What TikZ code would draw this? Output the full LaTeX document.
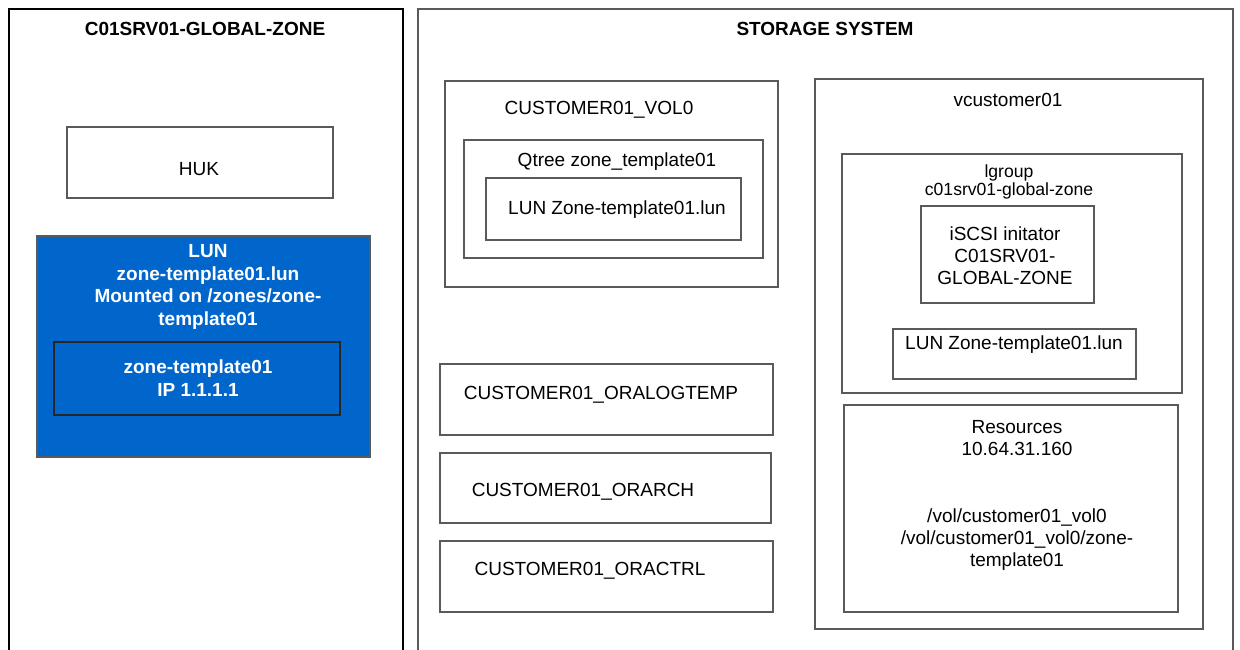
\documentclass[tikz,border=0pt]{standalone}
\usepackage{fontspec}
\setmainfont{Liberation Sans}
\definecolor{lunblue}{HTML}{0066CC}
\definecolor{boxgray}{HTML}{5A5A5A}
\begin{document}
\begin{tikzpicture}[x=0.5pt, y=-0.5pt,
  every node/.style={font=\fontsize{9.5}{11}\selectfont, align=center, inner sep=0pt},
  frame/.style={draw=boxgray, line width=0.9pt},
  title/.style={font=\fontsize{9.5}{11}\selectfont\bfseries},
  white text/.style={font=\fontsize{9.5}{11.3}\selectfont\bfseries, text=white},
  small text/.style={font=\fontsize{8.8}{9.2}\selectfont}]

\clip (0,0) rectangle (1240,649);
\fill[white] (0,0) rectangle (1240,649);

% global zone side
\draw[black, line width=0.75pt] (9,9) rectangle (403,680);
\node[title] (gztitle) at (205,29) {C01SRV01-GLOBAL-ZONE};

\draw[frame] (67,127) rectangle (333,198);
\node (huk) at (199,169) {HUK};

\fill[lunblue] (37,236) rectangle (370,457);
\draw[frame] (37,236) rectangle (370,457);
\node[white text] (lunmount) at (208,287) {LUN\\zone-template01.lun\\Mounted on /zones/zone-\\template01};
\draw[black!85, line width=0.9pt] (54,342) rectangle (340,415);
\node[white text] (zonetpl) at (198,378) {zone-template01\\IP 1.1.1.1};

% storage system side
\draw[frame] (418,9) rectangle (1233,680);
\node[title] (sstitle) at (825,29) {STORAGE SYSTEM};

\draw[frame] (445,81) rectangle (778,287);
\node (vol0) at (599,110) {CUSTOMER01\_VOL0};
\draw[frame] (464,140) rectangle (763,258);
\node (qtree) at (617,162) {Qtree zone\_template01};
\draw[frame] (486,178) rectangle (741,240);
\node (lunvol) at (617,210) {LUN Zone-template01.lun};

\draw[frame] (440,364) rectangle (773,435);
\node (oralog) at (601,395) {CUSTOMER01\_ORALOGTEMP};
\draw[frame] (440,453) rectangle (771,523);
\node (orarch) at (583,492) {CUSTOMER01\_ORARCH};
\draw[frame] (440,541) rectangle (773,612);
\node (oractrl) at (590,571) {CUSTOMER01\_ORACTRL};

% vfiler
\draw[frame] (815,79) rectangle (1203,629);
\node (vcust) at (1008,100) {vcustomer01};

\draw[frame] (842,154) rectangle (1182,393);
\node[small text] (igroup) at (1009,182) {lgroup\\c01srv01-global-zone};
\draw[frame] (921,206) rectangle (1094,303);
\node (iscsi) at (1005,256) {iSCSI initator\\C01SRV01-\\GLOBAL-ZONE};
\draw[frame] (893,329) rectangle (1136,379);
\node (lunvf) at (1014,345) {LUN Zone-template01.lun};

\draw[frame] (844,405) rectangle (1178,612);
\node (res) at (1017,438) {Resources\\10.64.31.160};
\node (respath) at (1017,540) {/vol/customer01\_vol0\\/vol/customer01\_vol0/zone-\\template01};

\end{tikzpicture}
\end{document}
